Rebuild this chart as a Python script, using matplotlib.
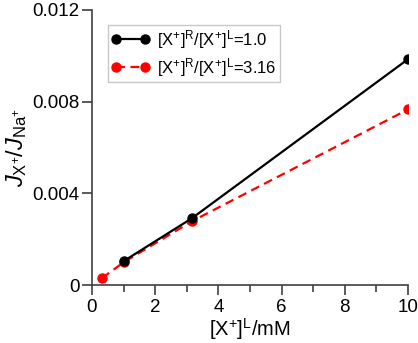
import matplotlib
matplotlib.use("Agg")
import matplotlib.pyplot as plt

plt.rcParams['font.family'] = ['Liberation Sans', 'DejaVu Sans']
plt.rcParams['mathtext.fontset'] = 'custom'
plt.rcParams['mathtext.rm'] = 'Liberation Sans'
plt.rcParams['mathtext.it'] = 'Liberation Sans:italic'
plt.rcParams['mathtext.default'] = 'regular'

x_black = [1.0, 3.16, 10.0]
y_black = [0.00104, 0.00291, 0.00985]
x_red = [0.316, 1.0, 3.16, 10.0]
y_red = [0.00030, 0.00099, 0.00278, 0.00766]
labels = [r'[X$^{+}$]$^{R}$/[X$^{+}$]$^{L}$=1.0', r'[X$^{+}$]$^{R}$/[X$^{+}$]$^{L}$=3.16']
xticks = [0, 2, 4, 6, 8, 10]
xminor = [1, 3, 5, 7, 9]
yticks = [0, 0.004, 0.008, 0.012]
yticklabels = ['0', '0.004', '0.008', '0.012']

fig = plt.figure(figsize=(4.18, 3.43), dpi=100)
ax = fig.add_axes([0.22, 0.169, 0.756, 0.802])
ax.plot(x_black, y_black, '-o', color='black', lw=1.6, ms=6.5, label=labels[0], zorder=3)
ax.plot(x_red, y_red, '--o', color='red', lw=1.6, ms=6.5, dashes=(4, 2.5), label=labels[1], zorder=2)

ax.set_xlim(0, 10)
ax.set_ylim(0, 0.012)
ax.set_xticks(xticks)
ax.set_xticklabels([str(v) for v in xticks])
ax.set_xticks(xminor, minor=True)
ax.set_yticks(yticks)
ax.set_yticklabels(yticklabels)
for s in ['top', 'right']:
    ax.spines[s].set_visible(False)
for s in ['left', 'bottom']:
    ax.spines[s].set_color('#404040')
    ax.spines[s].set_linewidth(1.2)
ax.tick_params(which='major', length=7, width=1.2, color='#404040', labelsize=13.5, direction='out')
ax.tick_params(which='minor', length=5, width=1.2, color='#404040')
ax.tick_params(axis='x', which='both', pad=3)
ax.tick_params(axis='y', pad=2)

ax.set_xlabel(r'[X$^{+}$]$^{L}$/mM', fontsize=14.5, labelpad=0)
ax.set_ylabel(r'$\mathit{J}_{X^{+}}/\mathit{J}_{Na^{+}}$', fontsize=17, labelpad=2)

leg = ax.legend(loc='upper left', bbox_to_anchor=(0.05, 0.947), borderaxespad=0, fontsize=12,
                frameon=True, fancybox=False, edgecolor='#bbbbbb', handlelength=2.35,
                borderpad=0.2, labelspacing=0.3, handletextpad=0.4, numpoints=2)
leg.get_frame().set_linewidth(1.0)

fig.savefig('out.png', dpi=100)
